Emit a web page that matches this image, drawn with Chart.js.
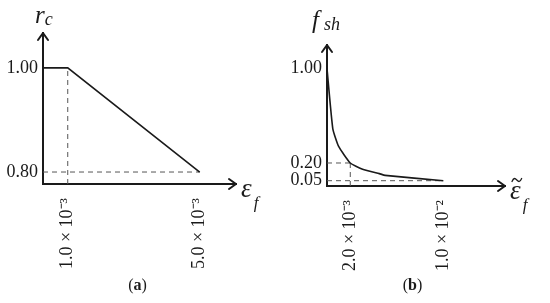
<!DOCTYPE html>
<html>
<head>
<meta charset="utf-8">
<script src="https://cdn.jsdelivr.net/npm/chart.js@4.4.0/dist/chart.umd.min.js"></script>
<style>
  html, body { margin: 0; padding: 0; background: #fff; }
  .wrap { display: flex; width: 550px; height: 303px; }
  canvas { display: block; }
</style>
</head>
<body>
<div class="wrap">
  <canvas id="chartA" width="275" height="303"></canvas>
  <canvas id="chartB" width="275" height="303"></canvas>
</div>
<script>
// panel (a): r_c against eps_f
const A_X = [0.00025, 0.001, 0.005];
const A_Y = [1.0, 1.0, 0.8];
const A_XTICKS = [0.001, 0.005];
const A_XLABELS = ['1.0 × 10⁻³', '5.0 × 10⁻³'];
const A_YTICKS = [1.0, 0.8];
const A_YLABELS = ['1.00', '0.80'];

// panel (b): f_sh against eps~_f
const B_X = [0, 0.0005, 0.001, 0.002, 0.003, 0.0045, 0.005, 0.01];
const B_Y = [1.0, 0.49, 0.34, 0.20, 0.15, 0.11, 0.095, 0.05];
const B_XTICKS = [0.002, 0.01];
const B_XLABELS = ['2.0 × 10⁻³', '1.0 × 10⁻²'];
const B_YTICKS = [1.0, 0.2, 0.05];
const B_YLABELS = ['1.00', '0.20', '0.05'];

const SERIF = "'Liberation Serif', 'Times New Roman', serif";
const INK = '#1a1a1a';

function pts(xs, ys) {
    return xs.map((x, i) => ({ x: x, y: ys[i] }));
}

// arrows, axis names and panel letter
const decoPlugin = {
    id: 'deco',
    afterDraw(chart, args, opts) {
        const ctx = chart.ctx;
        const a = chart.chartArea;
        ctx.save();
        ctx.strokeStyle = INK;
        ctx.lineWidth = 2;
        ctx.lineCap = 'round';
        ctx.lineJoin = 'round';
        // y arrow
        ctx.beginPath();
        ctx.moveTo(a.left - 5, a.top + 7);
        ctx.lineTo(a.left, a.top);
        ctx.lineTo(a.left + 5, a.top + 7);
        ctx.stroke();
        // x arrow
        ctx.beginPath();
        ctx.moveTo(a.right - 7, a.bottom - 5);
        ctx.lineTo(a.right, a.bottom);
        ctx.lineTo(a.right - 7, a.bottom + 5);
        ctx.stroke();

        ctx.fillStyle = INK;
        ctx.textBaseline = 'alphabetic';
        ctx.textAlign = 'left';
        // y name
        ctx.font = 'italic ' + opts.ySize + 'px ' + SERIF;
        ctx.fillText(opts.yMain, a.left + opts.yDx, a.top - opts.yUp);
        const w1 = ctx.measureText(opts.yMain).width;
        ctx.font = 'italic 18px ' + SERIF;
        ctx.fillText(opts.ySub, a.left + opts.yDx + w1 + opts.subGap, a.top - opts.yUp + 2);
        // x name
        ctx.font = 'italic 27px ' + SERIF;
        const ex = a.right + 5;
        const eb = a.bottom + 13;
        ctx.fillText('ε', ex, eb);
        const m = ctx.measureText('ε');
        const w2 = m.width;
        if (opts.tilde) {
            const top = eb - m.actualBoundingBoxAscent;
            const tx = ex + 2, ty = top - 6, tw = w2 - 1;
            ctx.lineWidth = 1.3;
            ctx.beginPath();
            ctx.moveTo(tx, ty + 1.5);
            ctx.bezierCurveTo(tx + tw * 0.2, ty - 3, tx + tw * 0.35, ty - 1.5, tx + tw * 0.5, ty);
            ctx.bezierCurveTo(tx + tw * 0.65, ty + 1.5, tx + tw * 0.8, ty + 3, tx + tw, ty - 1.5);
            ctx.stroke();
        }
        ctx.font = 'italic 17px ' + SERIF;
        ctx.fillText('f', ex + w2 + 2, eb + 11);

        // panel letter
        ctx.font = '16px ' + SERIF;
        const pw = ctx.measureText('(').width;
        ctx.font = 'bold 16px ' + SERIF;
        const lw = ctx.measureText(opts.letter).width;
        const cx = chart.width / 2;
        const y = 290;
        let x = cx - (2 * pw + lw) / 2;
        ctx.font = '16px ' + SERIF;
        ctx.fillText('(', x, y);
        ctx.font = 'bold 16px ' + SERIF;
        ctx.fillText(opts.letter, x + pw, y);
        ctx.font = '16px ' + SERIF;
        ctx.fillText(')', x + pw + lw, y);
        ctx.restore();
    }
};

function makeChart(id, cfg) {
    const dash = {
        borderColor: '#555',
        borderWidth: 1,
        borderDash: [5, 4],
        pointRadius: 0,
        fill: false,
        clip: false
    };
    const datasets = [{
        data: pts(cfg.xs, cfg.ys),
        borderColor: INK,
        borderWidth: 1.6,
        pointRadius: 0,
        tension: cfg.tension,
        fill: false,
        clip: false
    }].concat(cfg.guides.map(g => Object.assign({ data: g }, dash)));

    return new Chart(document.getElementById(id), {
        type: 'line',
        data: { datasets: datasets },
        options: {
            responsive: false,
            devicePixelRatio: 1,
            animation: false,
            layout: { padding: { top: cfg.top, right: cfg.right, left: 0, bottom: 0 } },
            plugins: {
                legend: { display: false },
                tooltip: { enabled: false },
                deco: cfg.deco
            },
            scales: {
                x: {
                    type: 'linear',
                    min: cfg.xRange[0],
                    max: cfg.xRange[1],
                    grid: { display: false, drawTicks: false },
                    border: { display: true, color: INK, width: 2 },
                    afterBuildTicks: s => { s.ticks = cfg.xTicks.map(v => ({ value: v })); },
                    afterFit: s => { s.height = cfg.xH; },
                    ticks: {
                        autoSkip: false,
                        minRotation: 90,
                        maxRotation: 90,
                        padding: 14,
                        color: INK,
                        font: { family: SERIF, size: 18 },
                        callback: (v) => cfg.xLabels[cfg.xTicks.indexOf(v)]
                    }
                },
                y: {
                    type: 'linear',
                    min: cfg.yRange[0],
                    max: cfg.yRange[1],
                    grid: { display: false, drawTicks: false },
                    border: { display: true, color: INK, width: 2 },
                    afterBuildTicks: s => { s.ticks = cfg.yTicks.map(v => ({ value: v })); },
                    afterFit: s => { s.width = cfg.yW; },
                    ticks: {
                        padding: 5,
                        color: INK,
                        font: { family: SERIF, size: 18 },
                        callback: (v) => cfg.yLabels[cfg.yTicks.indexOf(v)]
                    }
                }
            }
        },
        plugins: [decoPlugin]
    });
}

const A_XR = [0.00025, 0.0061];
const A_YR = [0.777, 1.067];
makeChart('chartA', {
    xs: A_X, ys: A_Y, tension: 0,
    xTicks: A_XTICKS, xLabels: A_XLABELS,
    yTicks: A_YTICKS, yLabels: A_YLABELS,
    xRange: A_XR, yRange: A_YR,
    guides: [
        [{ x: A_XTICKS[0], y: A_YR[0] }, { x: A_XTICKS[0], y: A_YTICKS[0] }],
        [{ x: A_XR[0], y: A_YTICKS[1] }, { x: A_XTICKS[1], y: A_YTICKS[1] }]
    ],
    top: 33, right: 39, yW: 43, xH: 119,
    deco: { yMain: 'r', ySub: 'c', ySize: 25, yUp: 10, yDx: -8, subGap: 0, tilde: false, letter: 'a' }
});

const B_XR = [0, 0.0153];
const B_YR = [0.005, 1.2];
makeChart('chartB', {
    xs: B_X, ys: B_Y, tension: 0.15,
    xTicks: B_XTICKS, xLabels: B_XLABELS,
    yTicks: B_YTICKS, yLabels: B_YLABELS,
    xRange: B_XR, yRange: B_YR,
    guides: [
        [{ x: B_XTICKS[0], y: B_YR[0] }, { x: B_XTICKS[0], y: B_YTICKS[1] + 0.03 }],
        [{ x: B_XR[0], y: B_YTICKS[1] }, { x: B_XTICKS[0], y: B_YTICKS[1] }],
        [{ x: B_XR[0], y: B_YTICKS[2] }, { x: B_XTICKS[1], y: B_YTICKS[2] }]
    ],
    top: 45, right: 45, yW: 52, xH: 117,
    deco: { yMain: 'f', ySub: 'sh', ySize: 25, yUp: 17, yDx: -15, subGap: 5, tilde: true, letter: 'b' }
});
</script>
</body>
</html>
